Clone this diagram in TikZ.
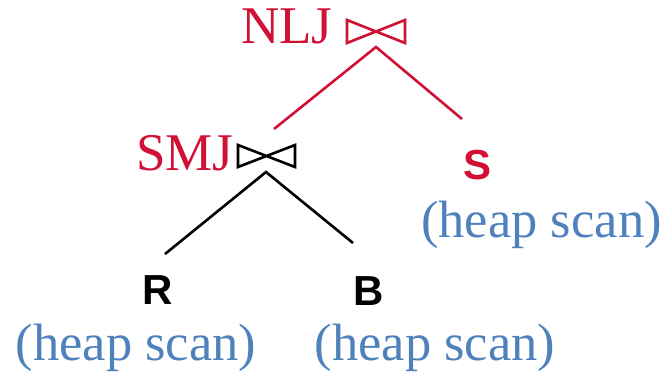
\documentclass[tikz,border=0pt]{standalone}
\usepackage{fontspec}
\setmainfont{Liberation Serif}
\newfontfamily\arialfont{Liberation Sans}
\definecolor{opred}{RGB}{208,16,52}
\definecolor{scanblue}{RGB}{79,129,189}
\begin{document}
\begin{tikzpicture}[x=1pt,y=-1pt,
  optext/.style={inner sep=0pt, anchor=base west, text=opred, font=\fontsize{53}{60}\selectfont},
  reltext/.style={inner sep=0pt, anchor=base west, font=\arialfont\bfseries\fontsize{42}{48}\selectfont},
  scantext/.style={inner sep=0pt, anchor=base, text=scanblue, font=\fontsize{52.5}{60}\selectfont},
  edge/.style={line width=2.6pt},
  bowtie/.style={line width=2.6pt, line join=miter}]
\useasboundingbox (0,0) rectangle (669,373);
% operator labels
\node[optext] (nlj) at (241,43) {NLJ};
\node[optext] (smj) at (136,170) {SMJ};
% relations
\node[reltext, text=opred] (s) at (463,179) {S};
\node[reltext, text=black] (r) at (142,304) {R};
\node[reltext, text=black] (b) at (353,305) {B};
% access methods
\node[scantext] (sscan) at (541.5,237) {(heap scan)};
\node[scantext] (rscan) at (136,360) {(heap scan)};
\node[scantext] (bscan) at (435,360) {(heap scan)};
% join symbols
\draw[bowtie, opred] (347,20) -- (405,43) -- (405,20) -- (347,43) -- cycle;
\draw[bowtie, black] (238,145) -- (295,167) -- (295,145) -- (238,167) -- cycle;
% connector points
\coordinate (nljtop) at (376,47);
\coordinate (nljl) at (274,129);
\coordinate (nljr) at (462,119);
\coordinate (smjtop) at (266,172);
\coordinate (smjl) at (165,254);
\coordinate (smjr) at (353,243);
\draw[edge, opred] (nljl) -- (nljtop) -- (nljr);
\draw[edge, black] (smjl) -- (smjtop) -- (smjr);
\end{tikzpicture}
\end{document}
